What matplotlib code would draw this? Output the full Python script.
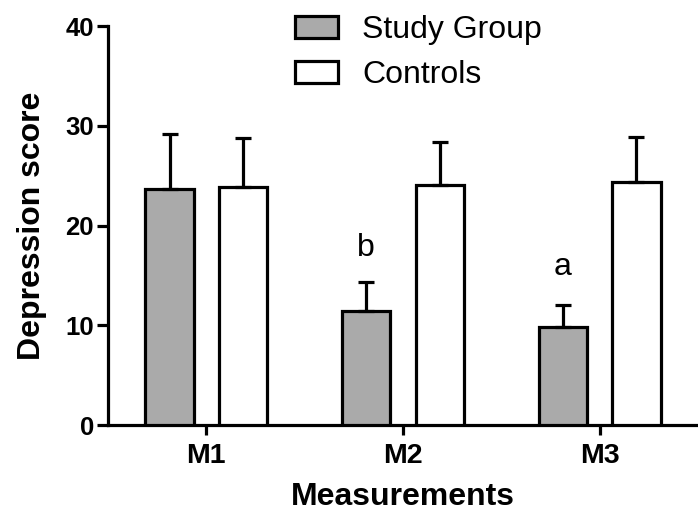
import numpy as np
import matplotlib.pyplot as plt

plt.rcParams['font.family'] = ['Liberation Sans', 'DejaVu Sans']

# Valeurs
categories = ['M1', 'M2', 'M3']
study_mean = [23.7, 11.4, 9.85]
study_err = [5.5, 2.9, 2.15]
control_mean = [23.9, 24.1, 24.4]
control_err = [4.9, 4.3, 4.5]
letters = ['', 'b', 'a']
letter_y = [0, 17.0, 15.0]

fig = plt.figure(figsize=(6.98, 5.16), dpi=100)
ax = fig.add_axes([0.1547, 0.176, 0.8453, 0.7736])

x = np.arange(len(categories))
w = 0.245
off = 0.187
lw = 2.3

ax.bar(x - off, study_mean, w, color='#aaaaaa', edgecolor='black', linewidth=lw,
       yerr=[np.zeros(3), study_err], capsize=6,
       error_kw=dict(elinewidth=lw, capthick=lw, ecolor='black'),
       label='Study Group', zorder=3)
ax.bar(x + off, control_mean, w, color='white', edgecolor='black', linewidth=lw,
       yerr=[np.zeros(3), control_err], capsize=6,
       error_kw=dict(elinewidth=lw, capthick=lw, ecolor='black'),
       label='Controls', zorder=3)

# Lettres de significativite
for i in range(len(categories)):
    if letters[i]:
        ax.text(x[i] - off, letter_y[i], letters[i], ha='center', va='baseline', fontsize=23)

ax.set_xlim(-0.5, 2.5)
ax.set_ylim(0, 40)
ax.set_yticks([0, 10, 20, 30, 40])
ax.set_xticks(x)
ax.set_xticklabels(categories)

ax.spines['top'].set_visible(False)
ax.spines['right'].set_visible(False)
ax.spines['left'].set_linewidth(lw)
ax.spines['bottom'].set_linewidth(lw)
ax.tick_params(axis='y', direction='out', length=8, width=lw, pad=2, labelsize=18.5)
ax.tick_params(axis='x', direction='out', length=7, width=lw, pad=6, labelsize=20.5)
for lab in ax.get_xticklabels() + ax.get_yticklabels():
    lab.set_fontweight('bold')

ax.set_ylabel('Depression score', fontsize=23, fontweight='bold', labelpad=13)
ax.set_xlabel('Measurements', fontsize=23, fontweight='bold', labelpad=9)

ax.legend(loc='upper left', bbox_to_anchor=(0.418, 0.977), bbox_transform=fig.transFigure,
          frameon=False, fontsize=23, handlelength=1.35, handleheight=0.72,
          handletextpad=0.75, labelspacing=0.47, borderpad=0.1, borderaxespad=0)

plt.savefig('out.png', dpi=100)
